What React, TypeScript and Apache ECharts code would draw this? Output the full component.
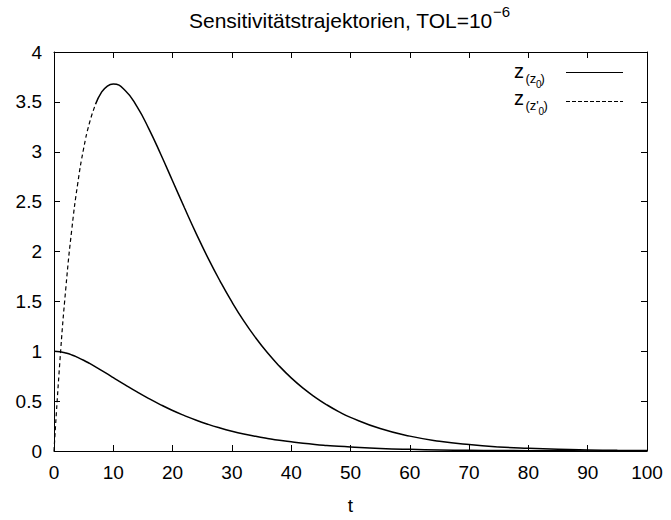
import React, { useEffect, useRef } from "react";
import * as echarts from "echarts";

const tValues = [0, 1, 2, 3, 4, 5, 6, 7, 8, 9, 10, 12, 14, 16, 18, 20, 22, 24, 26, 28, 30, 32, 34, 36, 38, 40, 42, 44, 46, 48, 50, 55, 60, 65, 70, 75, 80, 85, 90, 95, 100];
const zZ0 = [1.0, 0.995, 0.982, 0.963, 0.938, 0.91, 0.878, 0.844, 0.809, 0.773, 0.736, 0.663, 0.592, 0.525, 0.463, 0.406, 0.355, 0.308, 0.267, 0.231, 0.199, 0.171, 0.147, 0.126, 0.107, 0.092, 0.078, 0.066, 0.056, 0.047, 0.04, 0.026, 0.017, 0.011, 0.007, 0.005, 0.003, 0.002, 0.001, 0.001, 0.0005];
const zZp0 = [0, 0.905, 1.637, 2.222, 2.681, 3.033, 3.293, 3.476, 3.595, 3.659, 3.679, 3.614, 3.452, 3.23, 2.975, 2.707, 2.438, 2.177, 1.931, 1.704, 1.494, 1.304, 1.135, 0.984, 0.851, 0.733, 0.63, 0.541, 0.463, 0.395, 0.337, 0.225, 0.149, 0.098, 0.064, 0.041, 0.027, 0.017, 0.011, 0.007, 0.005];
const dashEndT = 7;

const FONT = "'Liberation Sans', Arial, sans-serif";

function txt(text: string, x: number, y: number, size: number) {
  return {
    type: "text",
    x,
    y,
    style: { text, fill: "#000", font: `${size}px ${FONT}`, align: "left", verticalAlign: "middle" },
    z: 10,
  };
}

export default function App() {
  const ref = useRef<HTMLDivElement>(null);
  useEffect(() => {
    const chart = echarts.init(ref.current!, null, { renderer: "svg" });
    const solidData = tValues.map((t, i) => [t, zZ0[i]]);
    const dashedData = tValues.map((t, i) => [t, zZp0[i]]).filter((p) => p[0] <= dashEndT);
    const dashedRest = tValues.map((t, i) => [t, zZp0[i]]).filter((p) => p[0] >= dashEndT);
    const axisCommon = {
      axisLine: { show: true, onZero: false, lineStyle: { color: "#000", width: 1 } },
      axisTick: { show: true, inside: true, length: 6, lineStyle: { color: "#000" } },
      splitLine: { show: false },
    };
    chart.setOption({
      animation: false,
      backgroundColor: "#fff",
      grid: { left: 54, right: 24, top: 52, bottom: 66 },
      xAxis: [
        {
          type: "value", min: 0, max: 100, interval: 10, position: "bottom",
          name: "t", nameLocation: "middle", nameGap: 45,
          nameTextStyle: { color: "#000", fontSize: 19, fontFamily: FONT },
          axisLabel: { color: "#000", fontSize: 19, fontFamily: FONT, margin: 12 },
          ...axisCommon,
        },
        {
          type: "value", min: 0, max: 100, interval: 10, position: "top",
          axisLabel: { show: false }, ...axisCommon,
        },
      ],
      yAxis: [
        {
          type: "value", min: 0, max: 4, interval: 0.5, position: "left",
          axisLabel: { color: "#000", fontSize: 19, fontFamily: FONT, margin: 12 },
          ...axisCommon,
        },
        {
          type: "value", min: 0, max: 4, interval: 0.5, position: "right",
          axisLabel: { show: false }, ...axisCommon,
        },
      ],
      series: [
        {
          name: "z(z0)", type: "line", data: solidData, smooth: true, showSymbol: false,
          lineStyle: { color: "#000", width: 1.5 },
        },
        {
          name: "z(z'0)", type: "line", data: dashedData, smooth: true, showSymbol: false,
          lineStyle: { color: "#000", width: 1.2, type: [4, 3] },
        },
        {
          name: "z(z'0) rest", type: "line", data: dashedRest, smooth: true, showSymbol: false,
          lineStyle: { color: "#000", width: 1.5 },
        },
      ],
      graphic: [
        txt("Sensitivitätstrajektorien, TOL=10", 189, 20, 21),
        txt("−6", 493, 11, 15),
        txt("z", 514, 71, 20),
        txt("(z", 525.5, 78.5, 13),
        txt("0", 536, 84.5, 10),
        txt(")", 540.5, 78.5, 13),
        { type: "line", shape: { x1: 566, y1: 72.5, x2: 623, y2: 72.5 }, style: { stroke: "#000", lineWidth: 1.2 }, z: 10 },
        txt("z", 514, 98, 20),
        txt("(z'", 525.5, 105.5, 13),
        txt("0", 538.5, 111.5, 10),
        txt(")", 543.5, 105.5, 13),
        { type: "line", shape: { x1: 566, y1: 101.5, x2: 623, y2: 101.5 }, style: { stroke: "#000", lineWidth: 1.2, lineDash: [4, 2] }, z: 10 },
      ],
    });
    return () => chart.dispose();
  }, []);
  return <div ref={ref} style={{ position: "fixed", left: 0, top: 0, width: 671, height: 520 }} />;
}
